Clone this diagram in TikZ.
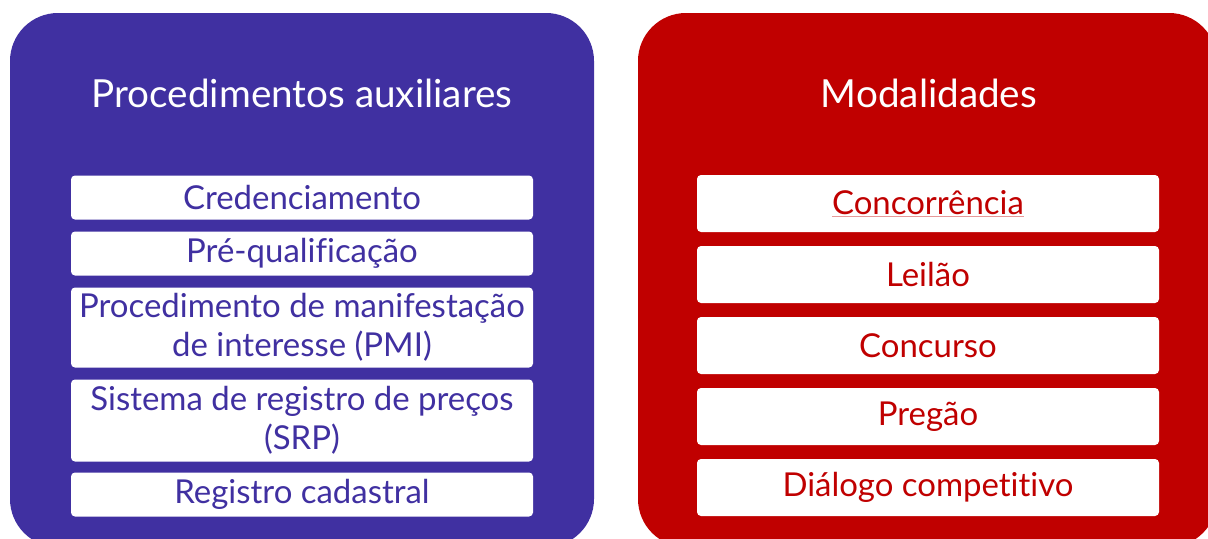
\documentclass[tikz,border=0pt]{standalone}
\usepackage{fontspec}
\setmainfont{Lato}[RawFeature={-liga}]
\definecolor{purp}{RGB}{64,48,161}
\definecolor{dred}{RGB}{192,0,0}
\newcommand\myul[1]{\setbox0\hbox{#1}\rlap{\color{dred!40}\rule[-2.2pt]{\wd0}{0.5pt}}\box0}
\tikzset{
  bigbox/.style={rounded corners=36pt},
  title/.style={text=white, font=\fontsize{29}{34}\selectfont, anchor=center},
  item/.style={fill=white, rounded corners=3pt, minimum width=346.5pt, inner sep=0pt,
    align=center, font=\fontsize{24.7}{29}\selectfont},
  litem/.style={item, text=purp},
  ritem/.style={item, text=dred},
}
\begin{document}
\begin{tikzpicture}[x=0.75pt,y=-0.75pt]
\useasboundingbox (0,0) rectangle (1208,539);
\clip (0,0) rectangle (1208,539);
\fill[purp, bigbox] (10,13) rectangle (594,547);
\fill[dred, bigbox] (638,13) rectangle (1217,547);
\node[title] (lt) at (302,93) {Procedimentos auxiliares};
\node[title] (rt) at (929,93) {Modalidades};
% left items
\node[litem, minimum height=33pt] (cred) at (302,197.5) {Credenciamento};
\node[litem, minimum height=33pt] (preq) at (302,253.5) {Pré-qualificação};
\node[litem, minimum height=60pt] (pmi) at (302,327.5) {Procedimento de manifestação\\de interesse (PMI)};
\node[litem, minimum height=61.5pt] (srp) at (302,420.5) {Sistema de registro de preços\\(SRP)};
\node[litem, minimum height=33pt] (reg) at (302,494.5) {Registro cadastral};
% right items
\node[ritem, minimum height=42.75pt] (conc) at (928,203.5) {\myul{Concorrência}};
\node[ritem, minimum height=42.75pt] (leil) at (928,274.5) {Leilão};
\node[ritem, minimum height=42.75pt] (concu) at (928,345.5) {Concurso};
\node[ritem, minimum height=42.75pt] (preg) at (928,416.5) {Pregão};
\node[ritem, minimum height=42.75pt] (dial) at (928,487.5) {Diálogo competitivo};
\end{tikzpicture}
\end{document}
